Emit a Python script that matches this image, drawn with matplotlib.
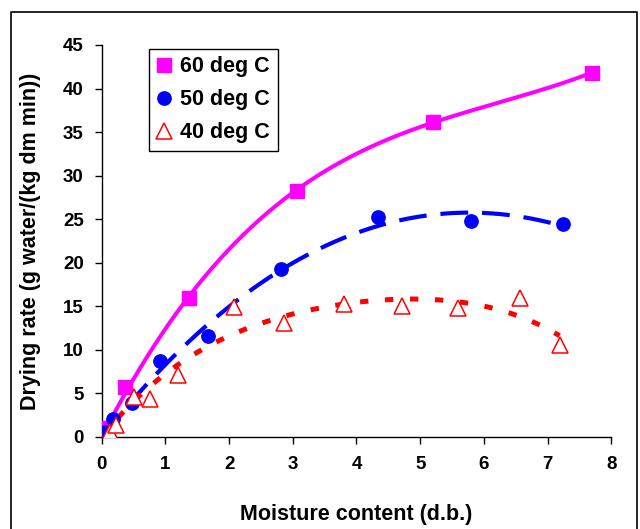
import matplotlib
matplotlib.use("Agg")
import matplotlib.pyplot as plt
import numpy as np
from matplotlib.lines import Line2D

plt.rcParams['font.family'] = ['Liberation Sans', 'DejaVu Sans']
plt.rcParams['font.weight'] = 'bold'
plt.rcParams['lines.scale_dashes'] = False

# drying rate vs moisture content, three air temperatures
x60 = [0.02, 0.37, 1.37, 3.06, 5.20, 7.70]
y60 = [1.0, 5.7, 16.0, 28.2, 36.2, 41.8]

x50 = [0.05, 0.18, 0.47, 0.92, 1.67, 2.82, 4.34, 5.80, 7.25]
y50 = [0.6, 2.1, 3.9, 8.7, 11.6, 19.3, 25.3, 24.8, 24.45]

x40 = [0.13, 0.23, 0.50, 0.76, 1.20, 2.08, 2.86, 3.81, 4.72, 5.59, 6.56, 7.19]
y40 = [0.6, 1.4, 4.6, 4.4, 7.1, 14.9, 13.05, 15.3, 15.0, 14.8, 15.9, 10.6]

labels = ['60 deg C', '50 deg C', '40 deg C']


def trend(x, y, order):
    # polynomial trendline forced through the origin
    x = np.asarray(x)
    A = np.column_stack([x ** k for k in range(1, order + 1)])
    coef = np.linalg.lstsq(A, np.asarray(y), rcond=None)[0]
    xs = np.linspace(0, x.max(), 200)
    ys = sum(c * xs ** (k + 1) for k, c in enumerate(coef))
    return xs, ys


fig = plt.figure(figsize=(6.4, 5.29), dpi=100)
ax = fig.add_axes([0.159, 0.174, 0.796, 0.741])

xs, ys = trend(x60, y60, 3)
ax.plot(xs, ys, color='#ff00ff', lw=2.9, solid_capstyle='butt', zorder=2)
xs, ys = trend(x50, y50, 3)
ax.plot(xs, ys, color='#0000ff', lw=3.0, ls=(0, (20, 10)), zorder=2)
xs, ys = trend(x40, y40, 4)
ax.plot(xs, ys, color='#ff0000', lw=3.6, ls=(0, (6, 12)), zorder=2)

ax.plot(x60, y60, 's', color='#ff00ff', ms=9.6, mec='#ff00ff', zorder=4)
ax.plot(x50, y50, 'o', color='#0000ff', ms=9.6, mec='#0000ff', zorder=4)
ax.plot(x40, y40, '^', mfc='white', mec='#ff0000', mew=1.1, ms=12, zorder=5)

ax.set_xlim(0, 8)
ax.set_ylim(0, 45)
ax.set_xticks(range(0, 9))
ax.set_yticks(range(0, 46, 5))
for s in ['top', 'right']:
    ax.spines[s].set_visible(False)
for s in ['left', 'bottom']:
    ax.spines[s].set_linewidth(1.0)
ax.tick_params(axis='both', direction='out', length=5, width=1.0, labelsize=13.5)
ax.tick_params(axis='x', pad=9)
ax.tick_params(axis='y', pad=8)

ax.set_xlabel('Moisture content (d.b.)', fontsize=15.5, fontweight='bold', labelpad=22)
ax.set_ylabel('Drying rate (g water/(kg dm min))', fontsize=15.5, fontweight='bold', labelpad=16)

handles = [
    Line2D([], [], ls='none', marker='s', color='#ff00ff', ms=9.6),
    Line2D([], [], ls='none', marker='o', color='#0000ff', ms=9.6),
    Line2D([], [], ls='none', marker='^', mfc='white', mec='#ff0000', mew=1.1, ms=12),
]
leg = ax.legend(handles, labels, loc='upper left', bbox_to_anchor=(0.093, 0.99),
                borderaxespad=0, frameon=True, fancybox=False,
                handlelength=0.7, handletextpad=0.4, labelspacing=0.55,
                borderpad=0.35, prop={'weight': 'bold', 'size': 15.5})
leg.get_frame().set_edgecolor('black')
leg.get_frame().set_linewidth(1.0)
leg.get_frame().set_alpha(1)

# outer frame around the chart area (open at the bottom)
fx0, fx1, fy1 = 10.5 / 640, 636.5 / 640, 1 - 11.5 / 529
fig.add_artist(Line2D([fx0, fx0, fx1, fx1], [-0.01, fy1, fy1, -0.01],
                      transform=fig.transFigure, color='black', lw=1.2))

fig.savefig('out.png', dpi=100)
